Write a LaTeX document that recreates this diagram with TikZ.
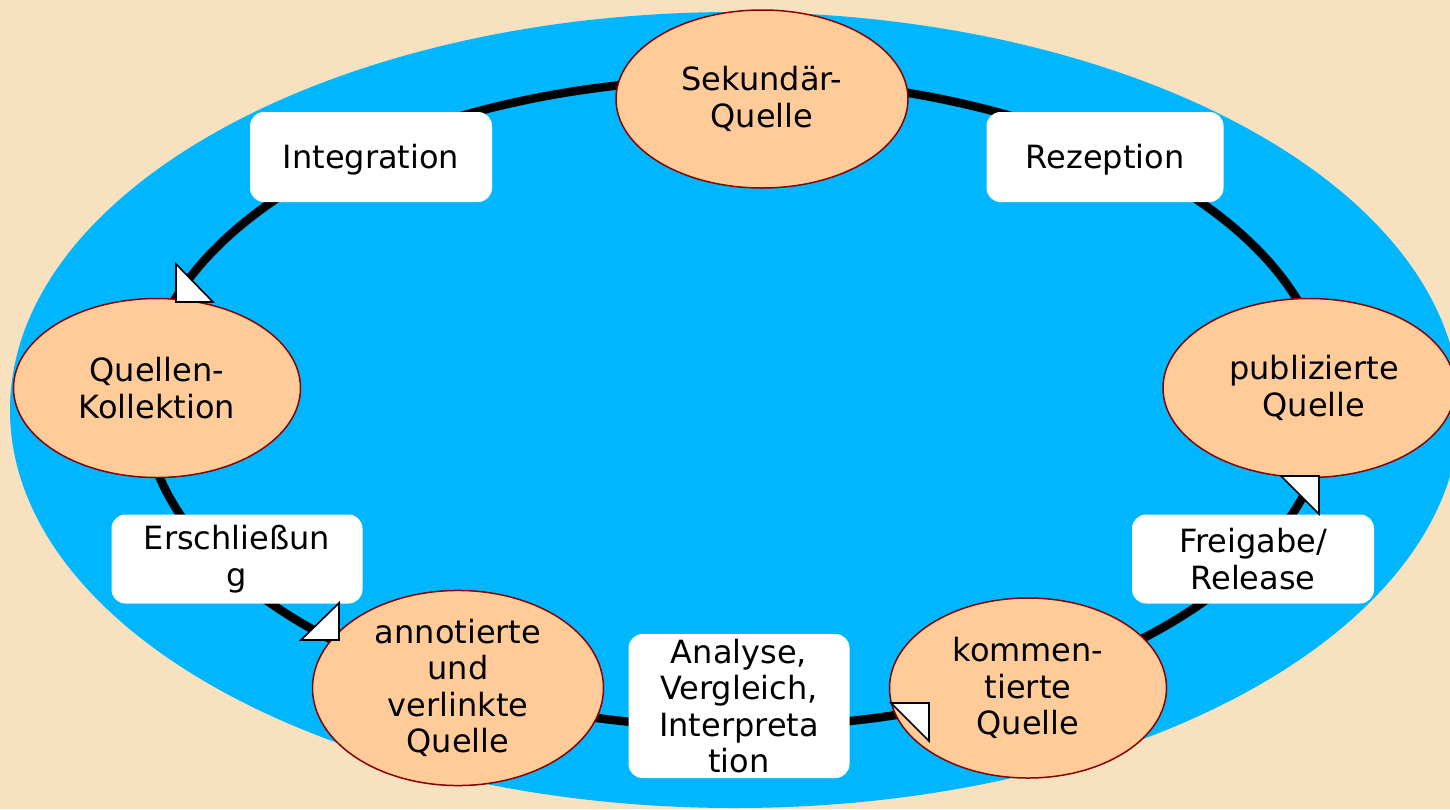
\documentclass[tikz,border=0pt]{standalone}
\usepackage{fontspec}
\setmainfont{DejaVu Sans}
\usetikzlibrary{shapes.geometric}

\definecolor{paper}{RGB}{247,225,190}
\definecolor{pool}{RGB}{0,183,255}
\definecolor{peach}{RGB}{255,204,153}
\definecolor{rim}{RGB}{139,0,0}

\newcommand{\tipmark}[3]{\draw[tip mark] #1 -- #2 -- #3 -- cycle;}

\begin{document}
\begin{tikzpicture}[x=1pt, y=-1pt,
    ring/.style={line width=8.5pt},
    source/.style={ellipse, draw=rim, line width=1.5pt, fill=peach,
    inner sep=0pt, align=center},
    work box/.style={rectangle, rounded corners=14pt, fill=white,
    inner sep=0pt, align=center},
    tip mark/.style={draw=black, line width=1.6pt, fill=white,
    line join=miter},
    every node/.style={color=black, font=\fontsize{32}{36.5}\selectfont,
    execute at begin node={\rule{0pt}{30.5pt}}}
    ]

\useasboundingbox (0,0) rectangle (1450,809);
\fill[paper] (0,0) rectangle (1450,809);
\clip (0,0) rectangle (1450,809);

\fill[pool] (735,410) ellipse [x radius=725pt, y radius=398pt];

\draw[ring] (736,403) ellipse [x radius=592pt, y radius=324pt];

\node[source, minimum width=292pt, minimum height=178pt] (secondary)
    at (762,99) {Sekundär-\\Quelle};
\node[source, minimum width=287pt, minimum height=179pt] (collection)
    at (157,388) {Quellen-\\Kollektion};
\node[source, minimum width=292pt, minimum height=179pt] (published)
    at (1309,388) {\hspace*{10pt}publizierte\\\hspace*{10pt}Quelle};
\node[source, minimum width=291pt, minimum height=180pt] (annotated)
    at (458,688) {annotierte\\und\\verlinkte\\Quelle};
\node[source, minimum width=277pt, minimum height=180pt] (commented)
    at (1028,688) {kommen-\\tierte\\Quelle};

\node[work box, minimum width=242pt, minimum height=90pt] (integration)
    at (371,157) {Integration};
\node[work box, minimum width=237pt, minimum height=90pt] (reception)
    at (1105,157) {Rezeption};
\node[work box, minimum width=251pt, minimum height=89pt] (indexing)
    at (237,559) {Erschließun\\g};
\node[work box, minimum width=242pt, minimum height=89pt] (release)
    at (1253,559) {Freigabe/\\Release};
\node[work box, minimum width=221pt, minimum height=144pt] (analysis)
    at (739,706) {Analyse,\\Vergleich,\\Interpreta\\tion};

\tipmark{(176,264)}{(176,302)}{(213,302)}
\tipmark{(301,640)}{(339,603)}{(339,640)}
\tipmark{(891,703)}{(929,703)}{(929,741)}
\tipmark{(1281,476)}{(1319,476)}{(1319,514)}

\end{tikzpicture}
\end{document}
